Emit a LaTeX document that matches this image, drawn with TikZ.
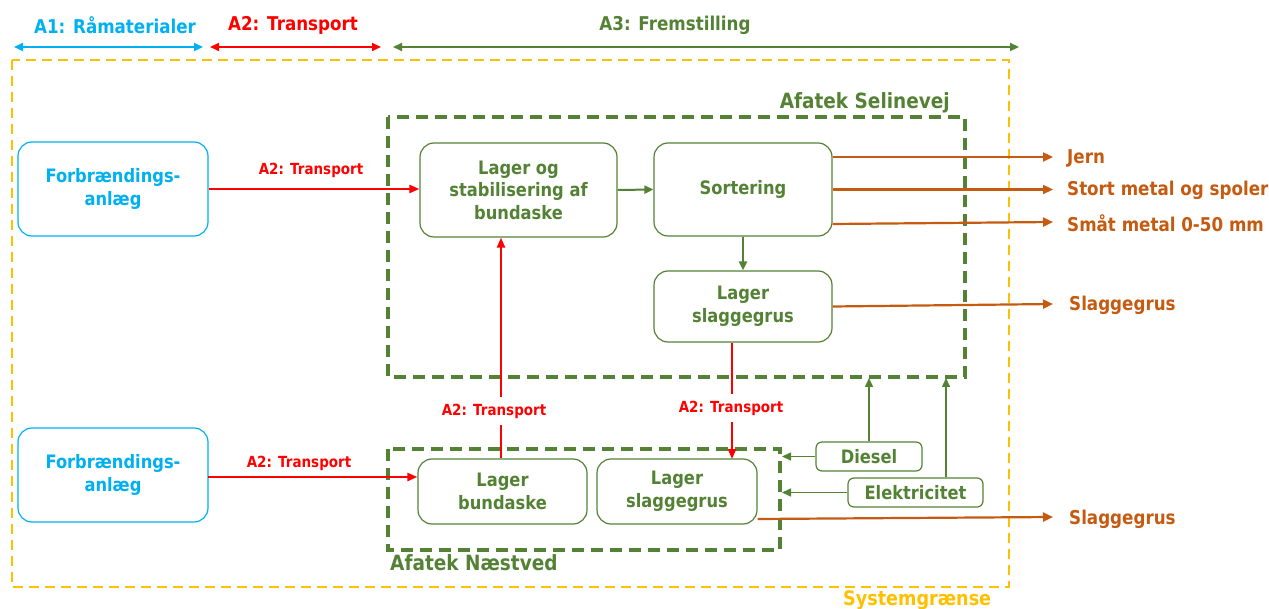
\documentclass[tikz,border=0pt]{standalone}
\usepackage{fontspec}
\setmainfont{DejaVu Sans}[FakeStretch=0.88]
\usetikzlibrary{arrows.meta}
\definecolor{cblue}{HTML}{00B0F0}
\definecolor{cred}{HTML}{FF0000}
\definecolor{cgreen}{HTML}{548235}
\definecolor{corange}{HTML}{C55A11}
\definecolor{cyellow}{HTML}{FFC000}
\begin{document}
\begin{tikzpicture}[x=1pt,y=-1pt,
 box/.style={draw=cgreen, line width=1.2pt, rounded corners=14pt, text=cgreen, align=center,
   font=\bfseries\fontsize{18.5}{22.5}\selectfont, inner sep=0pt},
 sbox/.style={box, rounded corners=6pt},
 fbox/.style={box, draw=cblue, text=cblue},
 redarr/.style={draw=cred, line width=2.2pt, -{Triangle[length=10pt,width=8pt]}},
 grarr/.style={draw=cgreen, line width=2pt, -{Triangle[length=9pt,width=8pt]}},
 thinarr/.style={draw=cgreen, line width=1.5pt, -{Triangle[length=9pt,width=8pt]}},
 orarr/.style={draw=corange, line width=2.2pt, -{Triangle[length=10pt,width=9pt]}},
 redlbl/.style={text=cred, font=\bfseries\fontsize{15.3}{17}\selectfont, inner sep=1pt},
 orlbl/.style={text=corange, font=\bfseries\fontsize{19}{22}\selectfont, anchor=west, inner sep=0pt},
 hdr/.style={font=\bfseries\fontsize{19}{22}\selectfont, inner sep=0pt},
 zonelbl/.style={text=cgreen, font=\bfseries\fontsize{21}{24}\selectfont, inner sep=0pt},
 gdash/.style={draw=cgreen, line width=3.5pt, dash pattern=on 12pt off 7pt},
 ydash/.style={draw=cyellow, line width=2.5pt, dash pattern=on 10pt off 6pt}
]
\useasboundingbox (0,0) rectangle (1269,609);

% header
\node[hdr, text=cblue] (h1) at (115,25) {A1: Råmaterialer};
\node[hdr, text=cred] (h2) at (293,25) {A2: Transport};
\node[hdr, text=cgreen] (h3) at (675,25) {A3: Fremstilling};
\coordinate (b1) at (14,47); \coordinate (b2) at (203,47);
\coordinate (r1) at (210,47); \coordinate (r2) at (381,47);
\coordinate (g1) at (393,47); \coordinate (g2) at (1019,47);
\draw[cblue, line width=2pt, {Triangle[length=9pt,width=8pt]}-{Triangle[length=9pt,width=8pt]}] (b1) -- (b2);
\draw[cred, line width=2pt, {Triangle[length=9pt,width=8pt]}-{Triangle[length=9pt,width=8pt]}] (r1) -- (r2);
\draw[cgreen, line width=2pt, {Triangle[length=9pt,width=8pt]}-{Triangle[length=9pt,width=8pt]}] (g1) -- (g2);

% boundaries
\draw[ydash] (12,60) rectangle (1009,587);
\node[text=cyellow, font=\bfseries\fontsize{20}{23}\selectfont, anchor=base west, inner sep=0pt] (sys) at (843,605) {Systemgrænse};
\draw[gdash] (388,117) rectangle (965,377);
\node[zonelbl, anchor=east] (sel) at (950,103) {Afatek Selinevej};
\draw[gdash] (388,449) rectangle (780,550);
\node[zonelbl, anchor=west] (nae) at (390,563) {Afatek Næstved};

% boxes
\node[fbox, minimum width=190pt, minimum height=94pt] (F1) at (113,189) {Forbrændings-\\anlæg};
\node[fbox, minimum width=190pt, minimum height=94pt] (F2) at (113,475) {Forbrændings-\\anlæg};
\node[box, minimum width=197pt, minimum height=94pt] (LO) at (518.5,190) {Lager og\\stabilisering af\\bundaske};
\node[box, minimum width=178pt, minimum height=93pt] (S) at (743,189.5) {Sortering};
\node[box, minimum width=178pt, minimum height=71pt] (LS1) at (743,306.5) {Lager\\slaggegrus};
\node[box, minimum width=169pt, minimum height=65pt] (LB) at (502.5,491.5) {Lager\\bundaske};
\node[box, minimum width=160pt, minimum height=65pt] (LS2) at (677,491.5) {Lager\\slaggegrus};
\node[sbox, minimum width=106pt, minimum height=29pt] (D) at (869,456.5) {Diesel};
\node[sbox, minimum width=135pt, minimum height=29pt] (E) at (915.5,492.5) {Elektricitet};

% red transport
\draw[redarr] (F1.east) -- (LO.west |- F1.east);
\node[redlbl] (t1) at (311,170) {A2: Transport};
\coordinate (f2o) at (208,477);
\draw[redarr] (f2o) -- (LB.west |- f2o);
\node[redlbl] (t2) at (299,463) {A2: Transport};
\draw[redarr] ([xshift=-1.5pt]LB.north) -- ([xshift=-1.5pt]LB.north |- LO.south);
\node[redlbl, fill=white, inner ysep=7pt] (t3) at (494,411) {A2: Transport};
\coordinate (ls2top) at (732,459);
\draw[redarr] (LS1.south -| ls2top) -- (ls2top);
\node[redlbl, fill=white, inner ysep=7pt] (t4) at (731,408) {A2: Transport};

% green flows
\draw[grarr] (LO.east) -- (S.west);
\draw[grarr] (S.south) -- (LS1.north);

% outputs
\coordinate (o1) at (1053,157);
\coordinate (o2) at (1053,189.5);
\coordinate (o3) at (1053,222);
\coordinate (o4) at (1053,304);
\coordinate (o5) at (1053,517);
\draw[orarr] (S.east |- o1) -- (o1);
\draw[orarr] (S.east) -- (o2);
\draw[orarr] (S.east |- 0,224) -- (o3);
\draw[orarr] (LS1.east) -- (o4);
\draw[orarr] (LS2.east |- 0,519) -- (o5);
\node[orlbl] (j) at (1067,158) {Jern};
\node[orlbl] (sm) at (1067,190) {Stort metal og spoler};
\node[orlbl] (sma) at (1067,223) {Småt metal 0-50 mm};
\node[orlbl] (sg1) at (1069,305) {Slaggegrus};
\node[orlbl] (sg2) at (1069,519) {Slaggegrus};

% energy
\coordinate (dn) at (782,456.5);
\coordinate (en) at (782,492.5);
\coordinate (du) at (869,378);
\coordinate (eu) at (946,378);
\draw[thinarr] (D.west) -- (dn);
\draw[thinarr] (E.west) -- (en);
\draw[thinarr] (D.north) -- (du);
\draw[thinarr] (E.north -| eu) -- (eu);
\end{tikzpicture}
\end{document}
